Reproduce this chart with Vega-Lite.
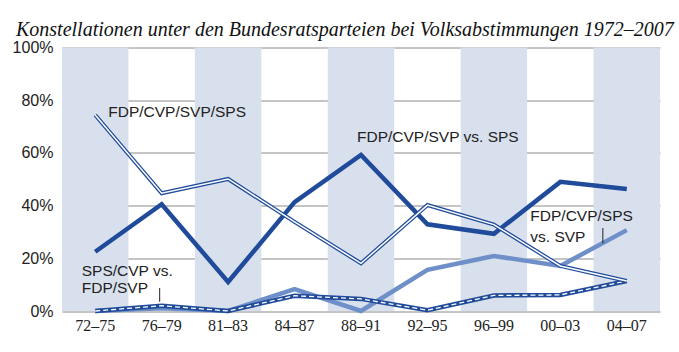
{
  "$schema": "https://vega.github.io/schema/vega-lite/v6.json",
  "width": 598,
  "height": 263.5,
  "autosize": {"type": "none"},
  "padding": {"left": 62, "top": 47.5, "right": 19, "bottom": 41},
  "background": "white",
  "title": {
    "text": "Konstellationen unter den Bundesratsparteien bei Volksabstimmungen 1972–2007",
    "anchor": "start",
    "frame": "group",
    "dx": -46,
    "offset": 0,
    "font": "Liberation Sans Narrow",
    "fontStyle": "italic",
    "fontWeight": "normal",
    "fontSize": 20,
    "color": "#111111"
  },
  "datasets": {
    "lines": [
      {"period": "72–75", "series": "A", "value": 22.5},
      {"period": "76–79", "series": "A", "value": 40.5},
      {"period": "81–83", "series": "A", "value": 11},
      {"period": "84–87", "series": "A", "value": 41.3},
      {"period": "88–91", "series": "A", "value": 59.2},
      {"period": "92–95", "series": "A", "value": 32.9},
      {"period": "96–99", "series": "A", "value": 29.3},
      {"period": "00–03", "series": "A", "value": 49},
      {"period": "04–07", "series": "A", "value": 46.3},
      {"period": "72–75", "series": "B", "value": 74.4},
      {"period": "76–79", "series": "B", "value": 44.7},
      {"period": "81–83", "series": "B", "value": 50.1},
      {"period": "84–87", "series": "B", "value": 33.8},
      {"period": "88–91", "series": "B", "value": 18.1},
      {"period": "92–95", "series": "B", "value": 40.2},
      {"period": "96–99", "series": "B", "value": 32.8},
      {"period": "00–03", "series": "B", "value": 17.1},
      {"period": "04–07", "series": "B", "value": 11.4},
      {"period": "72–75", "series": "C", "value": 0},
      {"period": "76–79", "series": "C", "value": 1},
      {"period": "81–83", "series": "C", "value": 0},
      {"period": "84–87", "series": "C", "value": 8.3},
      {"period": "88–91", "series": "C", "value": 0},
      {"period": "92–95", "series": "C", "value": 15.6},
      {"period": "96–99", "series": "C", "value": 20.9},
      {"period": "00–03", "series": "C", "value": 17.1},
      {"period": "04–07", "series": "C", "value": 30.7},
      {"period": "72–75", "series": "D", "value": 0},
      {"period": "76–79", "series": "D", "value": 2},
      {"period": "81–83", "series": "D", "value": 0},
      {"period": "84–87", "series": "D", "value": 5.8},
      {"period": "88–91", "series": "D", "value": 4.6},
      {"period": "92–95", "series": "D", "value": 0.3},
      {"period": "96–99", "series": "D", "value": 5.9},
      {"period": "00–03", "series": "D", "value": 6.1},
      {"period": "04–07", "series": "D", "value": 11.4}
    ],
    "shaded": [
      {"period": "72–75"},
      {"period": "81–83"},
      {"period": "88–91"},
      {"period": "96–99"},
      {"period": "04–07"}
    ],
    "labels": [
      {"id": "B", "period": "72–75", "value": 75.5, "label": "FDP/CVP/SVP/SPS"},
      {"id": "A", "period": "88–91", "value": 66, "label": "FDP/CVP/SVP vs. SPS"},
      {"id": "C", "period": "00–03", "value": 35.8, "label": ["FDP/CVP/SPS", "vs. SVP"]},
      {"id": "D", "period": "72–75", "value": 14, "label": ["SPS/CVP vs.", "FDP/SVP"]}
    ],
    "leaders": [
      {"id": "D", "period": "76–79", "value": 8.7, "value2": 3.5},
      {"id": "C", "period": "04–07", "value": 31.5, "value2": 25.7}
    ]
  },
  "encoding": {
    "x": {
      "field": "period",
      "type": "nominal",
      "scale": {"type": "band", "paddingInner": 0, "paddingOuter": 0, "domain": ["72–75", "76–79", "81–83", "84–87", "88–91", "92–95", "96–99", "00–03", "04–07"]},
      "axis": {
        "title": null,
        "domain": false,
        "ticks": false,
        "grid": false,
        "labelAngle": 0,
        "labelPadding": 6,
        "labelFont": "Liberation Sans Narrow",
        "labelFontSize": 16,
        "labelColor": "#222222"
      }
    },
    "y": {
      "field": "value",
      "type": "quantitative",
      "scale": {"domain": [0, 100], "nice": false, "zero": true},
      "axis": {
        "title": null,
        "values": [0, 20, 40, 60, 80, 100],
        "labelExpr": "datum.value + '%'",
        "domain": false,
        "ticks": false,
        "grid": true,
        "gridColor": "#8a8a8a",
        "gridWidth": 1,
        "labelPadding": 9,
        "labelFont": "Liberation Sans",
        "labelFontSize": 16,
        "labelColor": "#222222"
      }
    }
  },
  "layer": [
    {
      "data": {"name": "shaded"},
      "mark": {"type": "rect", "color": "#d8e0ed"},
      "encoding": {"y": null}
    },
    {
      "data": {"name": "lines"},
      "transform": [{"filter": "datum.series === 'C'"}],
      "mark": {"type": "line", "color": "#6f8fc9", "strokeWidth": 4.5, "strokeJoin": "miter"},
      "encoding": {}
    },
    {
      "data": {"name": "lines"},
      "transform": [{"filter": "datum.series === 'D'"}],
      "mark": {"type": "line", "color": "#1f4b9a", "strokeWidth": 4.5, "strokeJoin": "miter"},
      "encoding": {}
    },
    {
      "data": {"name": "lines"},
      "transform": [{"filter": "datum.series === 'D'"}],
      "mark": {"type": "line", "color": "white", "strokeWidth": 1.3, "strokeDash": [5, 3], "strokeJoin": "miter"},
      "encoding": {}
    },
    {
      "data": {"name": "lines"},
      "transform": [{"filter": "datum.series === 'A'"}],
      "mark": {"type": "line", "color": "#1f4b9a", "strokeWidth": 4.5, "strokeJoin": "miter"},
      "encoding": {}
    },
    {
      "data": {"name": "lines"},
      "transform": [{"filter": "datum.series === 'B'"}],
      "mark": {"type": "line", "color": "#1f4b9a", "strokeWidth": 4, "strokeJoin": "miter"},
      "encoding": {}
    },
    {
      "data": {"name": "lines"},
      "transform": [{"filter": "datum.series === 'B'"}],
      "mark": {"type": "line", "color": "white", "strokeWidth": 1.5, "strokeJoin": "miter"},
      "encoding": {}
    },
    {
      "data": {"name": "labels"},
      "transform": [{"filter": "datum.id === 'B'"}],
      "mark": {"type": "text", "align": "left", "baseline": "middle", "dx": 13, "font": "Liberation Sans", "fontSize": 15.5, "color": "#222222"},
      "encoding": {"text": {"field": "label"}}
    },
    {
      "data": {"name": "labels"},
      "transform": [{"filter": "datum.id === 'A'"}],
      "mark": {"type": "text", "align": "left", "baseline": "middle", "dx": -4, "font": "Liberation Sans", "fontSize": 15.5, "color": "#222222"},
      "encoding": {"text": {"field": "label"}}
    },
    {
      "data": {"name": "labels"},
      "transform": [{"filter": "datum.id === 'C'"}],
      "mark": {"type": "text", "align": "left", "baseline": "top", "dx": -30, "dy": -8, "lineHeight": 21.5, "font": "Liberation Sans", "fontSize": 15.5, "color": "#222222"},
      "encoding": {"text": {"field": "label"}}
    },
    {
      "data": {"name": "labels"},
      "transform": [{"filter": "datum.id === 'D'"}],
      "mark": {"type": "text", "align": "left", "baseline": "top", "dx": -13.5, "dy": -10, "lineHeight": 16.5, "font": "Liberation Sans", "fontSize": 15.5, "color": "#222222"},
      "encoding": {"text": {"field": "label"}}
    },
    {
      "data": {"name": "leaders"},
      "transform": [{"filter": "datum.id === 'D'"}],
      "mark": {"type": "rule", "color": "#222222", "strokeWidth": 1},
      "encoding": {"x": {"field": "period", "type": "nominal", "bandPosition": 0.47}, "y2": {"field": "value2"}}
    },
    {
      "data": {"name": "leaders"},
      "transform": [{"filter": "datum.id === 'C'"}],
      "mark": {"type": "rule", "color": "#222222", "strokeWidth": 1},
      "encoding": {"x": {"field": "period", "type": "nominal", "bandPosition": 0.14}, "y2": {"field": "value2"}}
    }
  ],
  "config": {
    "view": {"stroke": null}
  }
}
